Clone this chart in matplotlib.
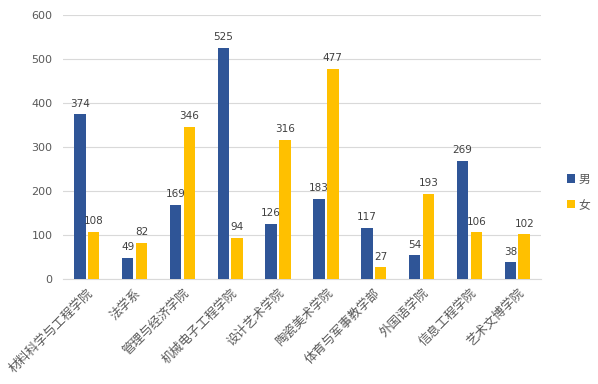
import matplotlib
matplotlib.use("Agg")
import matplotlib.pyplot as plt
import numpy as np

plt.rcParams['font.family'] = ['Noto Sans CJK SC', 'DejaVu Sans']

categories = ["材料科学与工程学院", "法学系", "管理与经济学院", "机械电子工程学院", "设计艺术学院",
              "陶瓷美术学院", "体育与军事教学部", "外国语学院", "信息工程学院", "艺术文博学院"]
male = [374, 49, 169, 525, 126, 183, 117, 54, 269, 38]
female = [108, 82, 346, 94, 316, 477, 27, 193, 106, 102]
series_names = ["男", "女"]

c_male = "#2F5597"
c_female = "#FFC000"
txt = "#595959"

fig = plt.figure(figsize=(5.98, 3.84), dpi=100)
ax = fig.add_axes([0.105, 0.273, 0.8, 0.688])

x = np.arange(len(categories))
w = 0.24
off = 0.145
b1 = ax.bar(x - off, male, w, color=c_male, label=series_names[0], zorder=3)
b2 = ax.bar(x + off, female, w, color=c_female, label=series_names[1], zorder=3)
for bars, vals in ((b1, male), (b2, female)):
    for r, v in zip(bars, vals):
        ax.text(r.get_x() + r.get_width() / 2, v + 13, str(v), ha='center', va='bottom',
                fontsize=7.5, color='#404040', family='DejaVu Sans')

ax.set_xlim(-0.5, len(categories) - 0.5)
ax.set_ylim(0, 600)
ax.set_yticks(range(0, 601, 100))
ax.yaxis.grid(True, color='#D9D9D9', linewidth=0.8, zorder=0)
ax.set_axisbelow(True)
for s in ['top', 'right', 'left']:
    ax.spines[s].set_visible(False)
ax.spines['bottom'].set_color('#D9D9D9')
ax.tick_params(axis='both', length=0, colors=txt)
ax.tick_params(axis='y', labelsize=8, pad=7.5)
ax.set_xticks(x)
ax.set_xticklabels(categories, rotation=45, ha='right', rotation_mode='anchor', fontsize=9, color=txt)
ax.tick_params(axis='x', pad=5)
for lab in ax.get_yticklabels():
    lab.set_family('DejaVu Sans')

leg = fig.legend(handles=[b1, b2], labels=series_names, loc='center left',
                 bbox_to_anchor=(0.93, 0.50), frameon=False, fontsize=8.5,
                 handlelength=0.7, handleheight=0.7, labelspacing=1.1, handletextpad=0.3)
for t in leg.get_texts():
    t.set_color(txt)

fig.savefig("out.png", dpi=100)
